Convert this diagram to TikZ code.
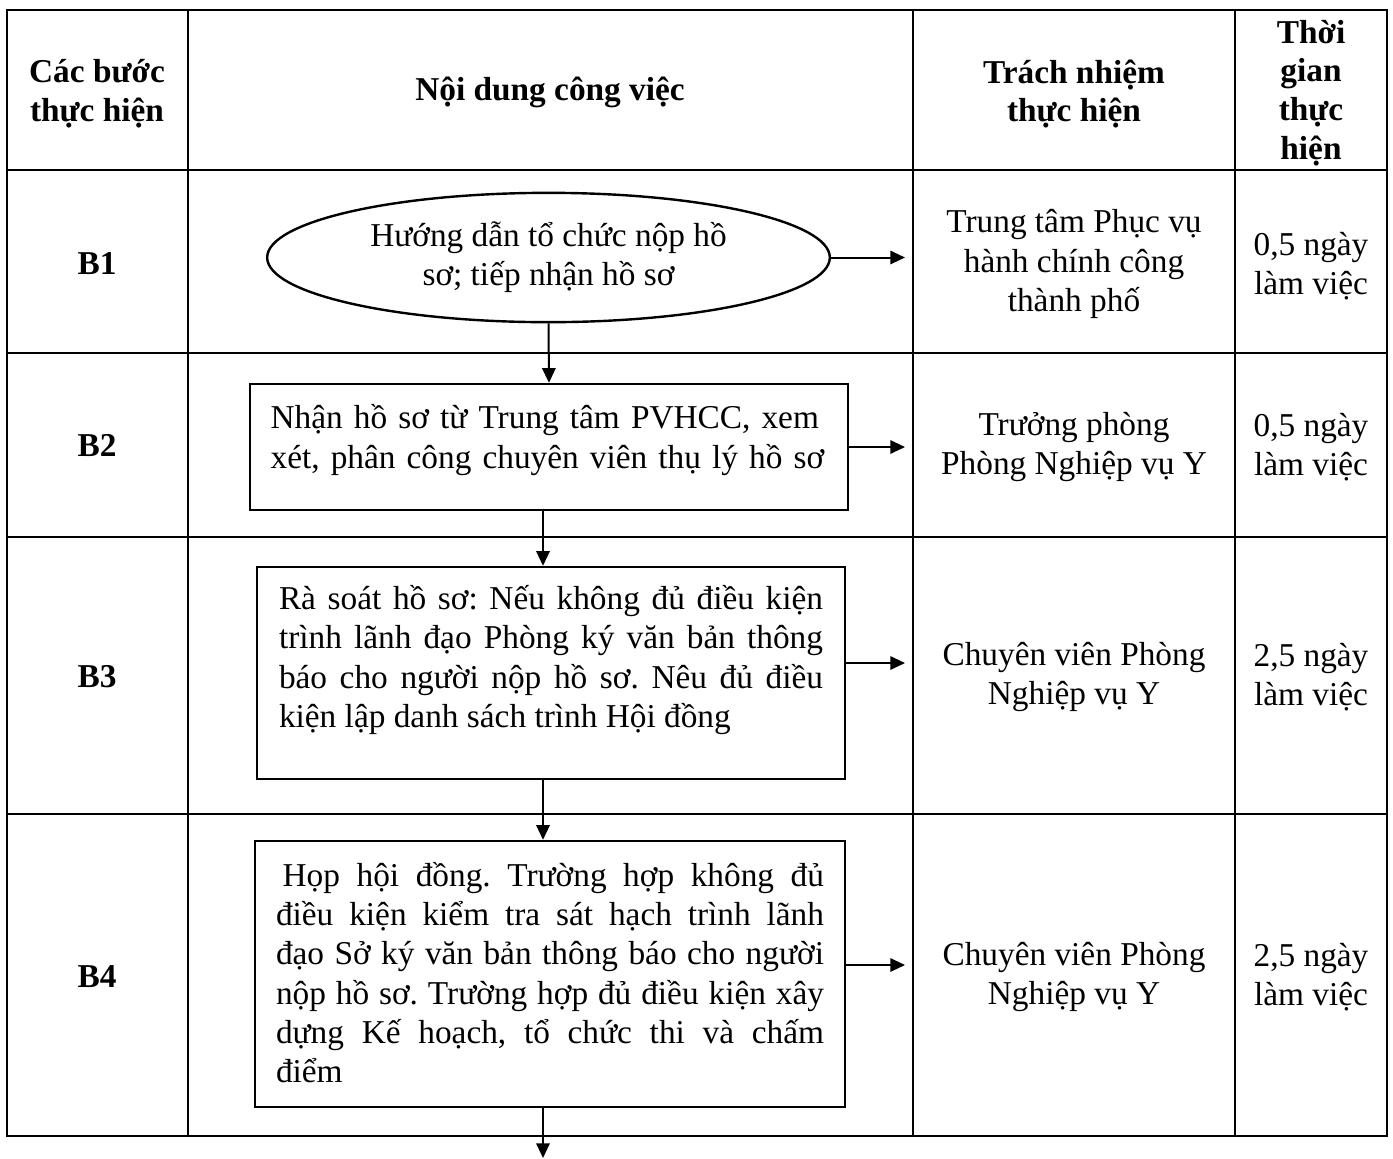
\documentclass[tikz,border=0pt]{standalone}
\usepackage{fontspec}
\setmainfont{Liberation Serif}
\usetikzlibrary{arrows.meta,shapes.geometric}
\newcommand{\bodyfont}{\fontsize{25}{29.5}\selectfont\frenchspacing\hyphenpenalty=10000\relax}
\begin{document}
\begin{tikzpicture}[x=0.75pt,y=-0.75pt,
  grid/.style={line width=2pt},
  body/.style={font=\bodyfont, align=center, inner sep=0pt},
  head/.style={font=\fontsize{25}{29}\selectfont\bfseries, align=center, inner sep=0pt},
  stepbox/.style={draw, line width=1.8pt, rectangle, inner sep=0pt},
  arr/.style={line width=1.5pt, -{Triangle[length=11pt,width=10pt]}},
]
\useasboundingbox (0,0) rectangle (1393,1158);
% table grid
\draw[grid] (7,10) rectangle (1387,1136);
\foreach \y in {170,353,537,814} \draw[grid] (7,\y) -- (1387,\y);
\foreach \x in {188,913,1235} \draw[grid] (\x,10) -- (\x,1136);

% header
\node[head] (h1) at (97,94) {Các bước\\thực hiện};
\node[head] (h2) at (550,92) {Nội dung công việc};
\node[head] (h3) at (1074,94) {Trách nhiệm\\thực hiện};
\node[head] (h4) at (1311,93) {Thời\\gian\\thực\\hiện};

% step labels
\node[head] (s1) at (97,264) {B1};
\node[head] (s2) at (97,446) {B2};
\node[head] (s3) at (97,677) {B3};
\node[head] (s4) at (97,977) {B4};

% content shapes
\node[ellipse, draw, line width=1.8pt, inner sep=0pt, minimum width=422pt, minimum height=97pt, body] (e1) at (548.5,257.5) {Hướng dẫn tổ chức nộp hồ\\sơ; tiếp nhận hồ sơ};

\node[stepbox, minimum width=448.5pt, minimum height=94.5pt] (b2) at (549,447) {};
\node[body, align=left, text width=417pt] (t2) at (548.6,440)
  {Nhận hồ sơ từ Trung tâm PVHCC, xem\\xét, phân công chuyên viên thụ lý hồ sơ};

\node[stepbox, minimum width=441pt, minimum height=159pt] (b3) at (551,673) {};
\node[body, align=justify, text width=408pt] (t3) at (551,660)
  {Rà soát hồ sơ: Nếu không đủ điều kiện\linebreak
   trình lãnh đạo Phòng ký văn bản thông\linebreak
   báo cho người nộp hồ sơ. Nêu đủ điều\linebreak
   kiện lập danh sách trình Hội đồng};

\node[stepbox, minimum width=442.5pt, minimum height=199.5pt] (b4) at (550,974) {};
\node[body, align=justify, text width=411pt] (t4) at (550,972.5)
  {\hspace*{5pt}Họp hội đồng. Trường hợp không đủ\linebreak
   điều kiện kiểm tra sát hạch trình lãnh\linebreak
   đạo Sở ký văn bản thông báo cho người\linebreak
   nộp hồ sơ. Trường hợp đủ điều kiện xây\linebreak
   dựng Kế hoạch, tổ chức thi và chấm\linebreak
   điểm};

% responsibility
\node[body] (r1) at (1074,264) {Trung tâm Phục vụ\\hành chính công\\thành phố};
\node[body] (r2) at (1074,447) {Trưởng phòng\\Phòng Nghiệp vụ Y};
\node[body] (r3) at (1074,677) {Chuyên viên Phòng\\Nghiệp vụ Y};
\node[body] (r4) at (1074,977) {Chuyên viên Phòng\\Nghiệp vụ Y};

% time
\node[body] (d1) at (1311,266) {0,5 ngày\\làm việc};
\node[body] (d2) at (1311,447) {0,5 ngày\\làm việc};
\node[body] (d3) at (1311,677) {2,5 ngày\\làm việc};
\node[body] (d4) at (1311,977) {2,5 ngày\\làm việc};

% connectors
\coordinate (rx) at (905,0);
\coordinate (ax) at (543,0);
\coordinate (endpt) at (543,1158);
\draw[arr] (e1.east) -- (e1.east -| rx);
\draw[arr] (b2.east) -- (b2.east -| rx);
\draw[arr] ([yshift=7.5pt]b3.east) -- ([yshift=7.5pt]b3.east -| rx);
\draw[arr] ([yshift=6.75pt]b4.east) -- ([yshift=6.75pt]b4.east -| rx);
\draw[arr] (e1.south) -- (b2.north);
\draw[arr] (b2.south -| ax) -- (b3.north -| ax);
\draw[arr] (b3.south -| ax) -- (b4.north -| ax);
\draw[arr] (b4.south -| ax) -- (endpt);
\end{tikzpicture}
\end{document}
